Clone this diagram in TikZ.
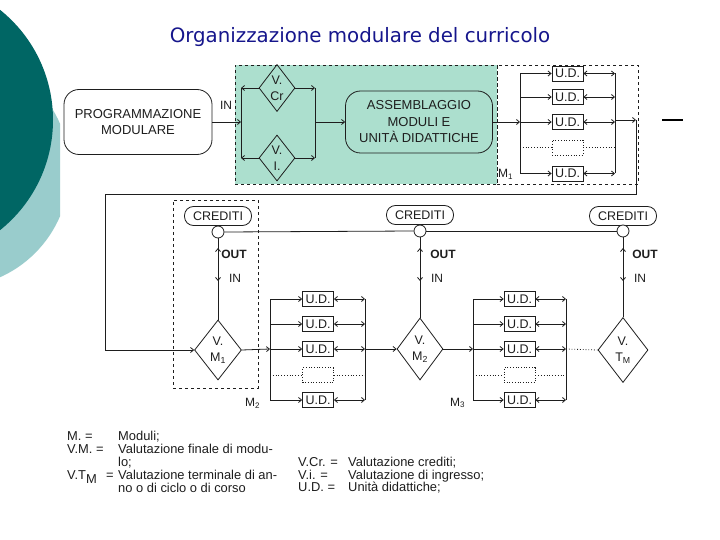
\documentclass[tikz,border=0pt]{standalone}
\usepackage{fontspec}
\setmainfont{Liberation Sans}
\newfontfamily\titlefont{DejaVu Sans}
\usetikzlibrary{arrows.meta,shapes.geometric}
\definecolor{darkteal}{RGB}{0,102,100}
\definecolor{lightteal}{RGB}{153,204,204}
\definecolor{mint}{RGB}{172,223,206}
\definecolor{titleblue}{RGB}{22,22,140}
\definecolor{ink}{RGB}{30,30,30}
\begin{document}
\begin{tikzpicture}[x=1pt,y=-1pt,
  ln/.style={draw=ink,line width=0.8pt},
  arr/.style={-{Straight Barb[length=3pt,width=5pt]}},
  darr/.style={{Straight Barb[length=3pt,width=5pt]}-{Straight Barb[length=3pt,width=5pt]}},
  dbox/.style={draw=ink,dashed,line width=0.7pt,inner sep=0pt},
  rbox/.style={draw=ink,line width=0.8pt,rounded corners=15pt,align=center,inner sep=0pt,text=ink,font=\fontsize{13}{16.5}\selectfont},
  udbox/.style={draw=ink,line width=0.8pt,fill=white,minimum width=31pt,minimum height=15pt,inner sep=0pt,text=ink,font=\fontsize{12.5}{13}\selectfont},
  udempty/.style={draw=ink,dotted,line width=0.7pt,fill=white,minimum width=31pt,minimum height=15pt,inner sep=0pt},
  credbox/.style={draw=ink,line width=0.8pt,rounded corners=9pt,minimum width=67pt,minimum height=19pt,inner sep=0pt,fill=white,text=ink,font=\fontsize{12.5}{13}\selectfont},
  joint/.style={circle,draw=ink,line width=0.8pt,fill=white,minimum size=12pt,inner sep=0pt},
  dia/.style={diamond,draw=ink,line width=0.8pt,inner sep=0pt},
  dtext/.style={align=center,text=ink,font=\fontsize{12.5}{16}\selectfont,inner sep=0pt},
  lbl/.style={text=ink,font=\fontsize{12}{13}\selectfont,inner sep=0pt},
  leg/.style={anchor=base west,text=ink,font=\fontsize{12.9}{13}\selectfont,inner sep=0pt}]
\useasboundingbox (0,0) rectangle (720,540);
% background
\fill[white] (0,0) rectangle (720,540);
\begin{scope}
  \clip (0,0) rectangle (60,540);
  \fill[lightteal] (-48,170) circle (117.5pt);
\end{scope}
\fill[darkteal] (-88,120) circle (141pt);
% title
\node[font=\titlefont\fontsize{19.8}{22}\selectfont,text=titleblue,inner sep=0pt] (title) at (360,37) {Organizzazione modulare del curricolo};
% top regions
\node[dbox,fill=mint,minimum width=262pt,minimum height=119pt] (green) at (366,124.5) {};
\node[dbox,minimum width=141pt,minimum height=119pt] (mod1) at (567.5,124.5) {};
\node[dbox,minimum width=85pt,minimum height=188pt] (mod2) at (215.5,294) {};
% top row
\node[rbox,minimum width=148pt,minimum height=65pt] (prog) at (138,122) {PROGRAMMAZIONE\\MODULARE};
\node[lbl] (inlab) at (226,105) {IN};
\node[dia,minimum width=36pt,minimum height=47pt] (dCr) at (277,88) {};
\node[dtext] (tCr) at (277,88) {V.\\Cr};
\node[dia,minimum width=36pt,minimum height=46pt] (dI) at (277,158) {};
\node[dtext] (tI) at (277,158) {V.\\I.};
\coordinate (vL1) at (241,88); \coordinate (vL2) at (241,158); \coordinate (vLm) at (241,122);
\coordinate (vR1) at (315,88); \coordinate (vR2) at (315,158); \coordinate (vRm) at (315,122);
\draw[ln] (vL1) -- (vL2);
\draw[ln] (vR1) -- (vR2);
\draw[ln,arr] (prog.east) -- (vLm);
\draw[ln,arr] (dCr.west) -- (vL1);
\draw[ln,arr] (dI.west) -- (vL2);
\draw[ln,arr] (dCr.east) -- (vR1);
\draw[ln,arr] (dI.east) -- (vR2);
\node[rbox,minimum width=147pt,minimum height=62pt] (asm) at (419,122) {ASSEMBLAGGIO\\MODULI E\\UNITÀ DIDATTICHE};
\draw[ln,arr] (vRm) -- (asm.west);
% module 1 unit boxes
\coordinate (aL1) at (520,73.5); \coordinate (aL5) at (520,173.5); \coordinate (aLm) at (520,122);
\coordinate (aR1) at (615,73.5); \coordinate (aR5) at (615,173.5); \coordinate (aRo) at (615,120);
\draw[ln] (aL1) -- (aL5);
\draw[ln] (aR1) -- (aR5);
\draw[ln,arr] (asm.east) -- (aLm);
\foreach \i/\y in {1/73.5,2/97,3/122,5/173.5}{
  \node[udbox] (udA\i) at (567.5,\y) {U.D.};
  \coordinate (pA\i) at (520,\y); \coordinate (qA\i) at (615,\y);
  \draw[ln,arr] (pA\i) -- (udA\i.west);
  \draw[ln,darr] (udA\i.east) -- (qA\i);
}
\node[udempty] (udA4) at (567.5,147.5) {};
\coordinate (pA4) at (520,147.5); \coordinate (qA4) at (615,147.5);
\draw[ln,dotted] (pA4) -- (udA4.west);
\draw[ln,dotted] (udA4.east) -- (qA4);
\node[lbl,anchor=west] (m1) at (498,174) {M\textsubscript{1}};
% link down
\coordinate (k1) at (636,120); \coordinate (k2) at (636,194);
\coordinate (k3) at (105,194); \coordinate (k4) at (105,350);
\draw[ln,arr] (aRo) -- (k1);
\coordinate (dash1) at (662,120); \coordinate (dash2) at (683,120);
\draw[black,line width=2pt] (dash1) -- (dash2);
% credits row
\node[credbox] (cr1) at (218,216) {CREDITI};
\node[credbox] (cr2) at (420,215) {CREDITI};
\node[credbox] (cr3) at (623,216) {CREDITI};
\node[joint] (ci1) at (218,232) {};
\node[joint] (ci2) at (420,231) {};
\node[joint] (ci3) at (623,231) {};
\draw[ln] (ci1.east) -- (ci2.west);
\draw[ln] (ci2.east) -- (ci3.west);
% diamonds
\node[dia,minimum width=47pt,minimum height=60pt] (dM1) at (218,350) {};
\node[dtext] (tM1) at (218,350) {V.\\M\textsubscript{1}};
\node[dia,minimum width=46pt,minimum height=62pt] (dM2) at (420,349) {};
\node[dtext] (tM2) at (420,349) {V.\\M\textsubscript{2}};
\node[dia,minimum width=50pt,minimum height=65pt] (dTM) at (623,350) {};
\node[dtext] (tTM) at (623,350) {V.\\T\textsubscript{M}};
\draw[ln] (k1) -- (k2) -- (k3) -- (k4);
\draw[ln,arr] (k4) -- (dM1.west);
% verticals with OUT / IN
\foreach \c/\x/\d/\ox/\ix in {1/218/dM1/234/235,2/420/dM2/443/437,3/623/dTM/645/640}{
  \draw[ln] (ci\c.south) -- (\d.north);
  \coordinate (ou\c a) at (\x,257); \coordinate (ou\c b) at (\x,248);
  \coordinate (in\c a) at (\x,272); \coordinate (in\c b) at (\x,281);
  \draw[ln,arr] (ou\c a) -- (ou\c b);
  \draw[ln,arr] (in\c a) -- (in\c b);
  \node[lbl,font=\bfseries\fontsize{12}{13}\selectfont] (out\c) at (\ox,254) {OUT};
  \node[lbl] (inl\c) at (\ix,278) {IN};
}
% module 2 and 3 unit boxes
\foreach \g/\cx/\lx/\rx in {B/318/270/365,C/519.5/473/566}{
  \coordinate (\g L1) at (\lx,299); \coordinate (\g L5) at (\lx,400); \coordinate (\g Lm) at (\lx,349);
  \coordinate (\g R1) at (\rx,299); \coordinate (\g R5) at (\rx,400); \coordinate (\g Rm) at (\rx,349);
  \draw[ln] (\g L1) -- (\g L5);
  \draw[ln] (\g R1) -- (\g R5);
  \foreach \i/\y in {1/299,2/324,3/349,5/400}{
    \node[udbox] (ud\g\i) at (\cx,\y) {U.D.};
    \coordinate (p\g\i) at (\lx,\y); \coordinate (q\g\i) at (\rx,\y);
    \draw[ln,arr] (p\g\i) -- (ud\g\i.west);
    \draw[ln,darr] (ud\g\i.east) -- (q\g\i);
  }
  \node[udempty] (ud\g4) at (\cx,375) {};
  \coordinate (p\g4) at (\lx,375); \coordinate (q\g4) at (\rx,375);
  \draw[ln,dotted] (p\g4) -- (ud\g4.west);
  \draw[ln,dotted] (ud\g4.east) -- (q\g4);
}
\draw[ln,arr] (dM1.east) -- (BLm);
\draw[ln,arr] (BRm) -- (dM2.west);
\draw[ln,arr] (dM2.east) -- (CLm);
\draw[ln,dotted] (CRm) -- (dTM.west);
\node[lbl,anchor=west] (m2) at (245,403) {M\textsubscript{2}};
\node[lbl,anchor=west] (m3) at (450,403) {M\textsubscript{3}};
% legend
\node[leg] (l1a) at (67,440) {M. =};
\node[leg] (l1b) at (118,440) {Moduli;};
\node[leg] (l2a) at (67,453) {V.M. =};
\node[leg] (l2b) at (118,453) {Valutazione finale di modu-};
\node[leg] (l3b) at (118,466) {lo;};
\node[leg] (l4a) at (67,479) {V.T\raisebox{-4pt}{M}};
\node[leg] (l4e) at (106,479) {=};
\node[leg] (l4b) at (118,479) {Valutazione terminale di an-};
\node[leg] (l5b) at (118,492) {no o di ciclo o di corso};
\node[leg] (r1a) at (298,466) {V.Cr. =};
\node[leg] (r1b) at (348,466) {Valutazione crediti;};
\node[leg] (r2a) at (298,479) {V.i. =};
\node[leg] (r2b) at (348,479) {Valutazione di ingresso;};
\node[leg] (r3a) at (298,491) {U.D. =};
\node[leg] (r3b) at (348,491) {Unità didattiche;};
\end{tikzpicture}
\end{document}
